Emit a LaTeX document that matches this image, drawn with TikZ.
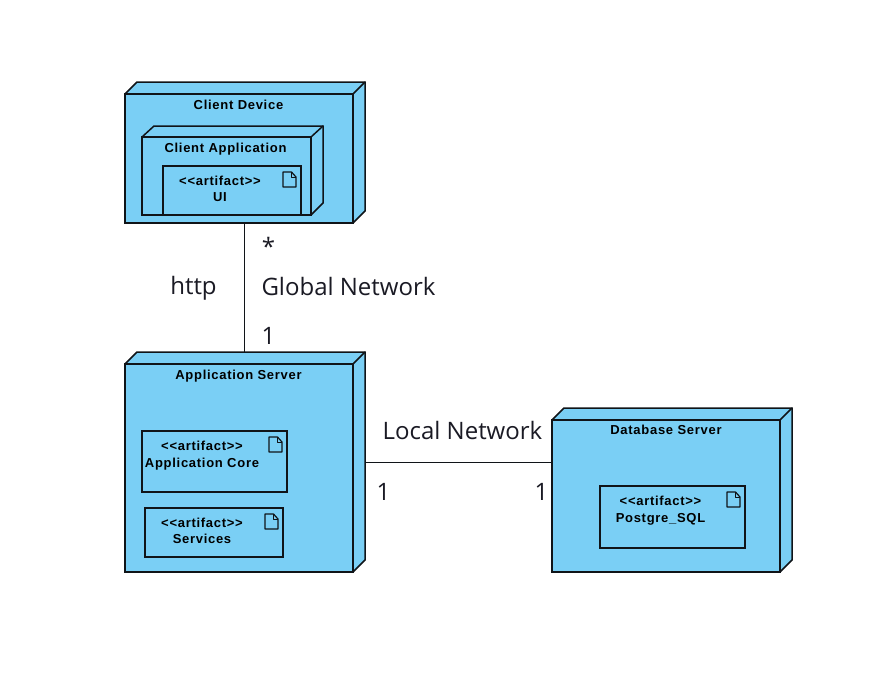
\documentclass[tikz,border=0pt]{standalone}
\usepackage{fontspec}
\setmainfont{Liberation Sans}
\newfontfamily\labelfont{Open Sans}
\newfontfamily\nodefont[LetterSpace=5.5]{Liberation Sans Bold}
\definecolor{nodeblue}{HTML}{7ACFF5}
\definecolor{linedark}{HTML}{101418}
\definecolor{labeldark}{HTML}{1A1A24}
\newcommand{\deviceface}[1]{%
  \fill[nodeblue] (#1.north west) -- (#1back.north west) -- (#1back.north east) -- (#1back.south east) -- (#1.south east) -- cycle;
  \draw[boxline] (#1.north west) -- (#1back.north west) -- (#1back.north east) -- (#1back.south east) -- (#1.south east);
  \draw[boxline] (#1.north east) -- (#1back.north east);
  \draw[boxline] (#1.north west) rectangle (#1.south east);
}
\newcommand{\docicon}[1]{%
  \draw[iconline] ([xshift=-18pt,yshift=-6pt]#1.north east) -- ++(8.5,0) -- ++(4.5,5) -- ++(0,10) -- ++(-13,0) -- cycle;
  \draw[iconline,line width=.5pt] ([xshift=-9.5pt,yshift=-6pt]#1.north east) -- ++(0,5) -- ++(4.5,0);
}
\tikzset{
  x=1pt,y=-1pt,
  boxline/.style={draw=linedark,line width=1.5pt,line join=miter},
  iconline/.style={draw=linedark,line width=1.2pt,line join=round},
  conn/.style={draw=linedark,line width=1pt},
  front/.style={fill=nodeblue,inner sep=0pt,outer sep=0pt,anchor=north west},
  backbox/.style={inner sep=0pt,outer sep=0pt,anchor=north west},
  artifactbox/.style={boxline,fill=nodeblue,inner sep=0pt,outer sep=0pt,anchor=north west},
  ntext/.style={font=\nodefont\fontsize{13}{15}\selectfont,text=black,inner sep=0pt,anchor=base},
  clabel/.style={font=\labelfont\fontsize{24}{28}\selectfont,text=labeldark,inner sep=0pt,anchor=center},
}
\begin{document}
\begin{tikzpicture}
\useasboundingbox (0,0) rectangle (879,681);
\fill[white] (0,0) rectangle (879,681);
% Client Device
\node[backbox,minimum width=228pt,minimum height=129pt] (cdback) at (137,82) {};
\node[front,minimum width=228pt,minimum height=129pt] (cd) at (125,94) {};
\deviceface{cd}
\node[ntext] (cdt) at (238.5,109) {Client Device};
% Client Application
\node[backbox,minimum width=169pt,minimum height=77pt] (caback) at (154,126) {};
\node[front,minimum width=169pt,minimum height=78pt] (ca) at (142,137) {};
\deviceface{ca}
\node[ntext] (cat) at (225.5,152) {Client Application};
\node[artifactbox,minimum width=138pt,minimum height=49pt] (ui) at (163,166) {};
\docicon{ui}
\node[ntext] (uit1) at (220,185) {<{}<artifact>{}>};
\node[ntext] (uit2) at (220,201) {UI};
% Application Server
\node[backbox,minimum width=228pt,minimum height=208pt] (asback) at (137,352) {};
\node[front,minimum width=228pt,minimum height=208pt] (as) at (125,364) {};
\deviceface{as}
\node[ntext] (ast) at (238.5,379) {Application Server};
\node[artifactbox,minimum width=145pt,minimum height=61pt] (core) at (142,431) {};
\docicon{core}
\node[ntext] (coret1) at (202,450) {<{}<artifact>{}>};
\node[ntext] (coret2) at (202,467) {Application Core};
\node[artifactbox,minimum width=138pt,minimum height=49pt] (svc) at (145,508) {};
\docicon{svc}
\node[ntext] (svct1) at (202,527) {<{}<artifact>{}>};
\node[ntext] (svct2) at (202,543) {Services};
% Database Server
\node[backbox,minimum width=228pt,minimum height=152pt] (dbback) at (564,408) {};
\node[front,minimum width=228pt,minimum height=152pt] (db) at (552,420) {};
\deviceface{db}
\node[ntext] (dbt) at (666,434) {Database Server};
\node[artifactbox,minimum width=145pt,minimum height=62pt] (pg) at (600,486) {};
\docicon{pg}
\node[ntext] (pgt1) at (660.5,505) {<{}<artifact>{}>};
\node[ntext] (pgt2) at (660.5,522) {Postgre\_SQL};
% Connectors
\draw[conn] ([xshift=5.5pt]cd.south) -- ([xshift=-6.5pt]asback.north);
\draw[conn] ([yshift=-6.5pt]asback.east) -- ([yshift=33.5pt]db.west);
% Labels
\node[clabel] (lstar) at (268.5,246) {*};
\node[clabel] (lhttp) at (193.5,288) {http};
\node[clabel] (lglobal) at (348.5,286) {Global Network};
\node[clabel] (lone) at (268.5,336) {1};
\node[clabel] (llocal) at (462.5,430) {Local Network};
\node[clabel] (lonea) at (383.5,492) {1};
\node[clabel] (loneb) at (541.5,492) {1};
\end{tikzpicture}
\end{document}
